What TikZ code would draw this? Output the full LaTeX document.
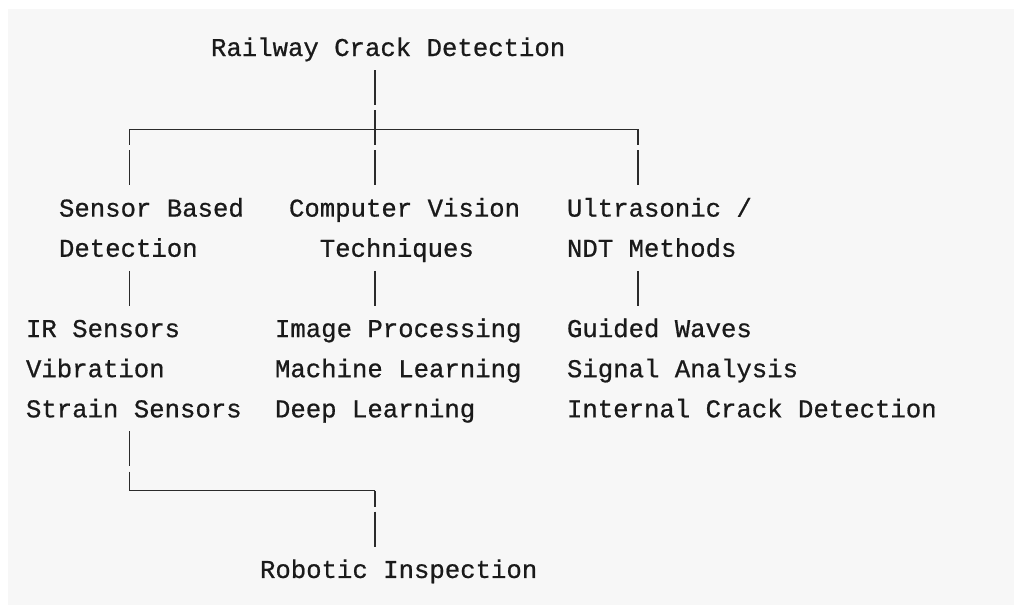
\documentclass[tikz,border=0pt]{standalone}
\usepackage{fontspec}
\newfontfamily\diagmono{Liberation Mono}[FakeBold=0.7]
\usetikzlibrary{calc}
\definecolor{bg}{HTML}{F7F7F7}
\definecolor{ink}{HTML}{1A1A1A}
\definecolor{wirec}{HTML}{2B2B2B}
\begin{document}
\begin{tikzpicture}[x=1pt,y=-1pt,
  lbl/.style={anchor=base west, inner sep=0pt, outer sep=0pt,
    font=\diagmono\fontsize{25.67}{30}\selectfont, text=ink},
  wire/.style={draw=wirec, line width=1.4pt},
  wiredash/.style={wire, dash pattern=on 35pt off 5.15pt},
  wiredrop/.style={wiredash, dash phase=19.15pt}]
\useasboundingbox (0,0) rectangle (1014,605);
\fill[bg] (8,9) rectangle (1014,605);

% text nodes
\node[lbl] (root) at (211,56) {Railway Crack Detection};
\node[lbl] (sb1) at (59,216.6) {Sensor Based};
\node[lbl] (sb2) at (59,256.75) {Detection};
\node[lbl] (cv1) at (289,216.6) {Computer Vision};
\node[lbl] (cv2) at (319.8,256.75) {Techniques};
\node[lbl] (us1) at (567,216.6) {Ultrasonic /};
\node[lbl] (us2) at (567,256.75) {NDT Methods};
\node[lbl] (ir) at (26,337.05) {IR Sensors};
\node[lbl] (vib) at (26,377.2) {Vibration};
\node[lbl] (str) at (26,417.35) {Strain Sensors};
\node[lbl] (img) at (275,337.05) {Image Processing};
\node[lbl] (ml) at (275,377.2) {Machine Learning};
\node[lbl] (dl) at (275,417.35) {Deep Learning};
\node[lbl] (gw) at (567,337.05) {Guided Waves};
\node[lbl] (sa) at (567,377.2) {Signal Analysis};
\node[lbl] (icd) at (567,417.35) {Internal Crack Detection};
\node[lbl] (rob) at (260,577.95) {Robotic Inspection};

% junctions
\coordinate (L) at (129.5,129.3);
\coordinate (C) at (375,129.3);
\coordinate (R) at (638,129.3);
\coordinate (BL) at (129.5,490.65);
\coordinate (BR) at (375,490.65);

% connectors
\draw[wiredash] ($(root.base -| C)+(0,14)$) -- (C);
\draw[wire] (L) -- (R);
\draw[wiredrop] (L) -- ($(sb1.base -| L)+(0,-31.3)$);
\draw[wiredrop] (C) -- ($(cv1.base -| C)+(0,-31.3)$);
\draw[wiredrop] (R) -- ($(us1.base -| R)+(0,-31.3)$);
\draw[wire] ($(sb2.base -| L)+(0,14)$) -- ($(ir.base -| L)+(0,-31.3)$);
\draw[wire] ($(cv2.base -| C)+(0,14)$) -- ($(img.base -| C)+(0,-31.3)$);
\draw[wire] ($(us2.base -| R)+(0,14)$) -- ($(gw.base -| R)+(0,-31.3)$);
\draw[wiredash] ($(str.base -| BL)+(0,14)$) -- (BL);
\draw[wire] (BL) -- (BR);
\draw[wiredrop] (BR) -- ($(rob.base -| BR)+(0,-31.3)$);
\end{tikzpicture}
\end{document}
